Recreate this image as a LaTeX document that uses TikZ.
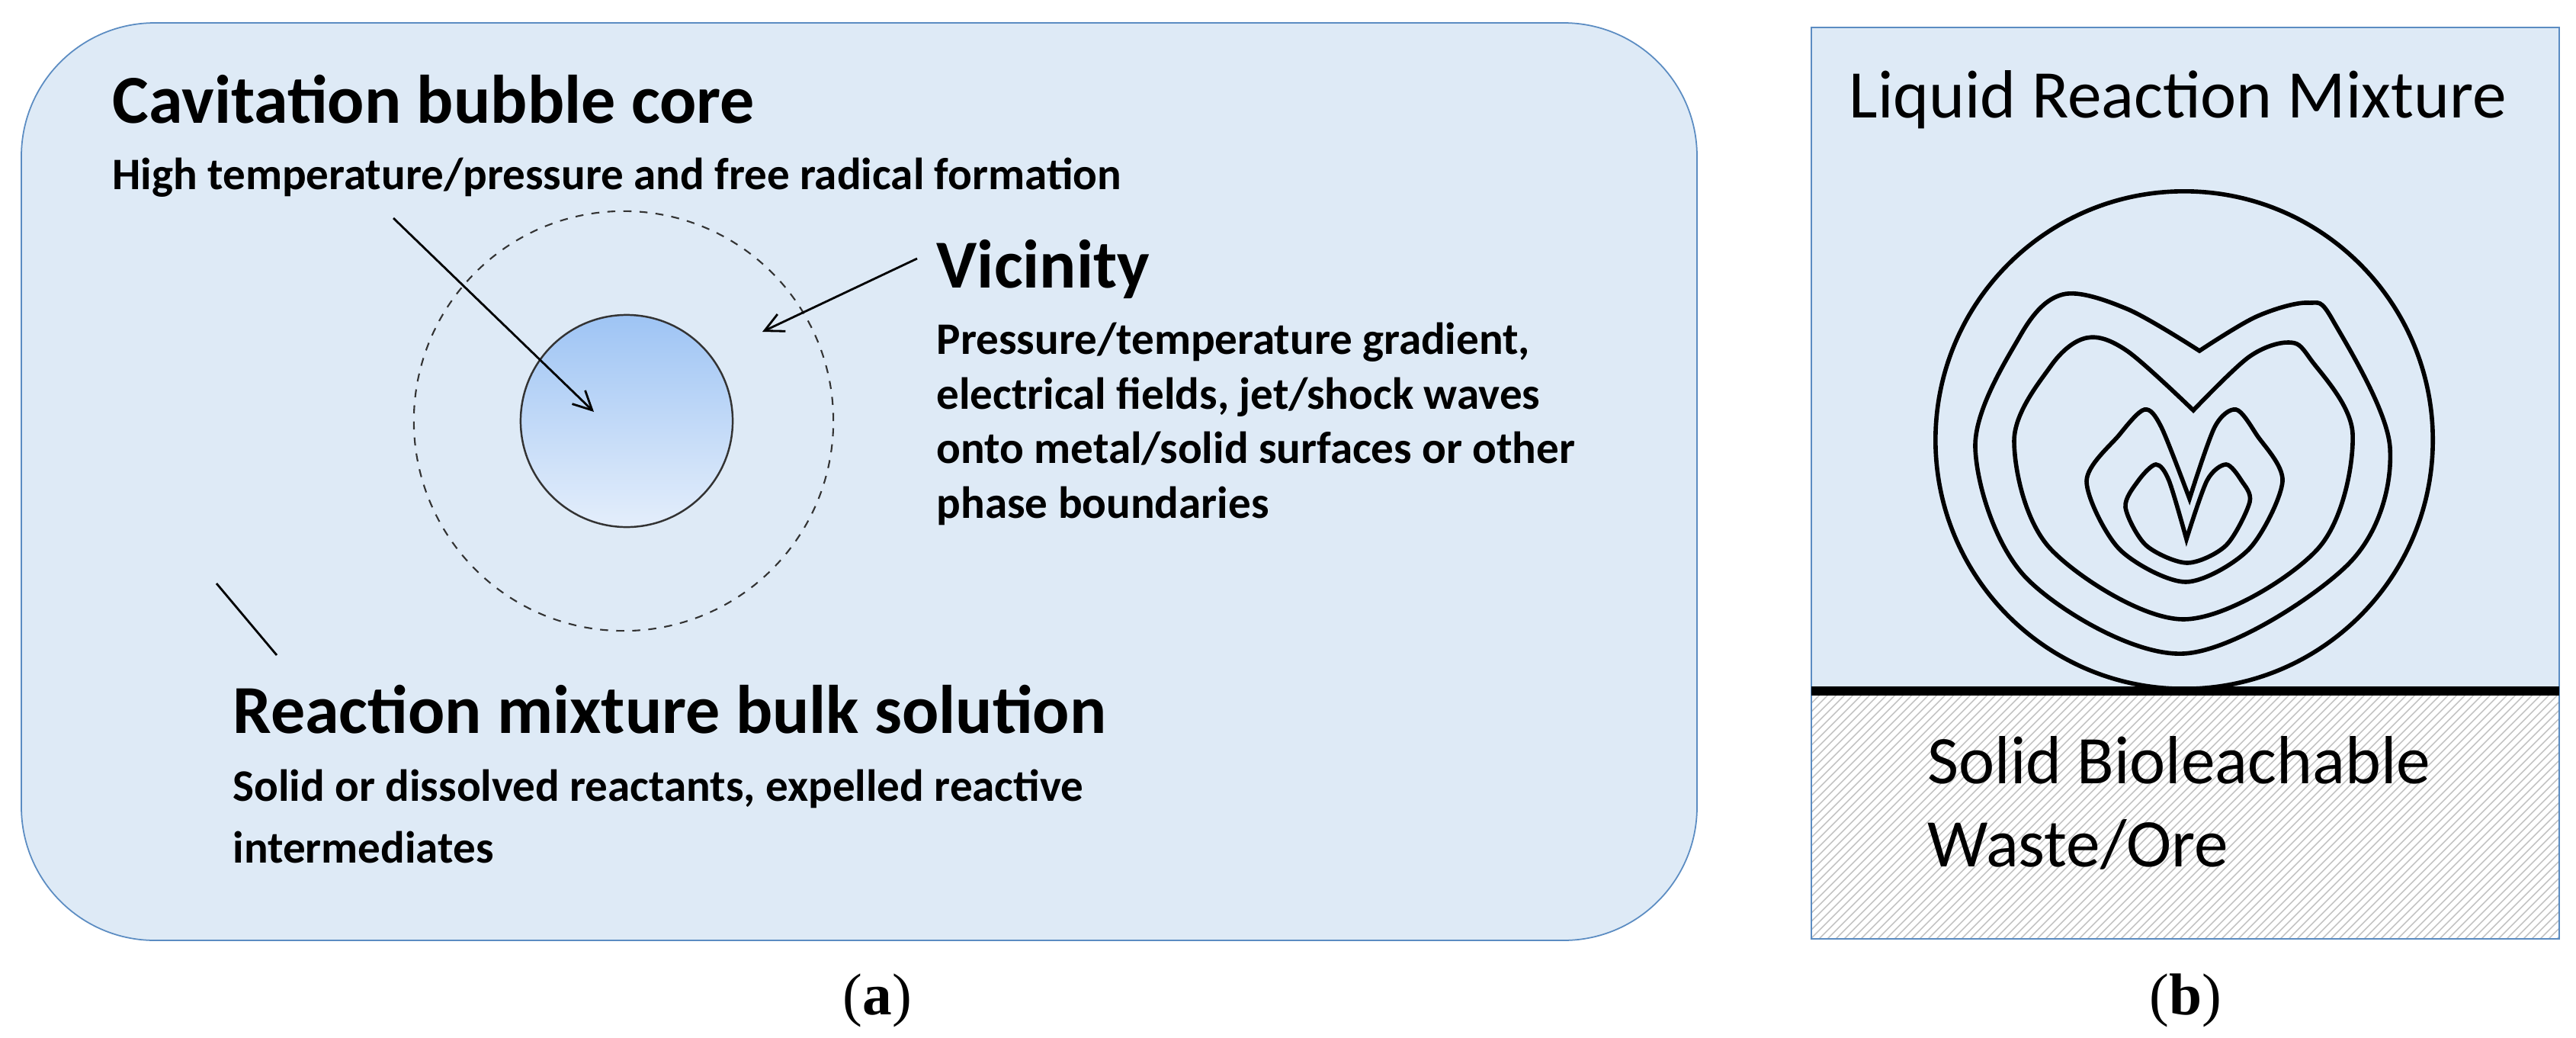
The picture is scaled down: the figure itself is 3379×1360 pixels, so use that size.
\documentclass[tikz,border=0pt]{standalone}
\usepackage{fontspec}
\setmainfont{Carlito}
\newfontfamily\serifnum{Liberation Serif}
\usetikzlibrary{arrows.meta}
\definecolor{bgblue}{HTML}{DEEAF6}
\definecolor{edgeblue}{HTML}{5B8CC2}
\definecolor{coretop}{HTML}{9EC4F4}
\definecolor{corebot}{HTML}{E4EEFB}
\begin{document}
\begin{tikzpicture}[x=0.01cm,y=-0.01cm,
  txt/.style={anchor=base west,inner sep=0pt},
  head/.style={txt,font=\fontsize{25.6}{30}\selectfont\bfseries},
  sub/.style={txt,font=\fontsize{16.8}{20.5}\selectfont\bfseries},
  big/.style={txt,font=\fontsize{25.4}{30}\selectfont},
  lbl/.style={anchor=base,inner sep=0pt,font=\serifnum\fontsize{22}{26}\selectfont},
  arr/.style={-{Straight Barb[length=7pt,width=7pt]},line width=0.8pt},
  cont/.style={line width=1.6pt,black}]
\useasboundingbox (0,0) rectangle (3379,1360);
\fill[white] (0,0) rectangle (3379,1360);
% panel a
\draw[edgeblue,fill=bgblue,line width=0.5pt,rounded corners=1.75cm] (28,30) rectangle (2226,1233);
\node[draw=black!80,dashed,line width=0.6pt,circle,minimum size=5.5cm,inner sep=0pt] (vic) at (818,552) {};
\shade[top color=coretop,bottom color=corebot] (822,552) circle[radius=1.39cm];
\node[draw=black!80,line width=0.7pt,circle,minimum size=2.78cm,inner sep=0pt] (core) at (822,552) {};
\node[head] (t1) at (147,161) {Cavitation bubble core};
\node[sub] (s1) at (147,248) {High temperature/pressure and free radical formation};
\node[head] (t2) at (1228,377) {Vicinity};
\node[sub] (s2a) at (1228,464) {Pressure/temperature gradient,};
\node[sub] (s2b) at (1228,536) {electrical fields, jet/shock waves};
\node[sub] (s2c) at (1228,607) {onto metal/solid surfaces or other};
\node[sub] (s2d) at (1228,679) {phase boundaries};
\node[head] (t3) at (305,961) {Reaction mixture bulk solution};
\node[sub] (s3a) at (305,1050) {Solid or dissolved reactants, expelled reactive};
\node[sub] (s3b) at (305,1131) {intermediates};
\coordinate (a1s) at (516,286); \coordinate (a1e) at (779,540);
\coordinate (a2s) at (1203,339); \coordinate (a2e) at (1000,435);
\coordinate (l1) at (284,765); \coordinate (l2) at (363,859);
\draw[arr] (a1s) -- (a1e);
\draw[arr] (a2s) -- (a2e);
\draw[line width=0.8pt] (l1) -- (l2);
\node[lbl] (ca) at (1151,1330) {(\textbf{a})};
% panel b
\fill[bgblue] (2376,36) rectangle (3357,906);
\fill[white] (2376,906) rectangle (3357,1231);
\begin{scope}
\clip (2376,906) rectangle (3357,1231);
\foreach \i in {0,11,...,1400}{
  \draw[black!25,line width=0.4pt] (2376+\i-340,1240) -- (2376+\i,900);
}
\end{scope}
\draw[edgeblue,line width=0.6pt] (2376,36) rectangle (3357,1231);
\draw[line width=3.5pt] (2376,906) -- (3357,906);
\node[draw,cont,circle,minimum size=6.52cm,inner sep=0pt] (bub) at (2865,577) {};
\draw[cont] plot[smooth,tension=0.55] coordinates {(2885,460) (2960,415) (3027,397) (3060,420) (3135,587) (3080,740) (2864,857) (2660,760) (2591,587) (2650,440) (2706,386) (2790,405) (2885,460)} -- cycle;
\draw[cont] plot[smooth,tension=0.55] coordinates {(2877,538) (2950,468) (3002,449) (3030,470) (3086,569) (3040,720) (2864,812) (2690,720) (2642,578) (2690,480) (2737,443) (2790,460) (2877,538)} -- cycle;
\draw[cont] plot[smooth,tension=0.5] coordinates {(2872,654) (2905,560) (2933,537) (2960,570) (2994,631) (2950,720) (2867,763) (2780,720) (2737,631) (2780,570) (2813,537) (2835,560) (2872,654)} -- cycle;
\draw[cont] plot[smooth,tension=0.5] coordinates {(2868,707) (2895,630) (2920,609) (2940,630) (2951,658) (2920,715) (2869,738) (2815,715) (2788,665) (2805,630) (2828,609) (2845,630) (2868,707)} -- cycle;
\node[big] (lq) at (2425,154) {Liquid Reaction Mixture};
\node[big] (sba) at (2528,1027) {Solid Bioleachable};
\node[big] (sbb) at (2528,1136) {Waste/Ore};
\node[lbl] (cb) at (2867,1330) {(\textbf{b})};
\end{tikzpicture}
\end{document}
